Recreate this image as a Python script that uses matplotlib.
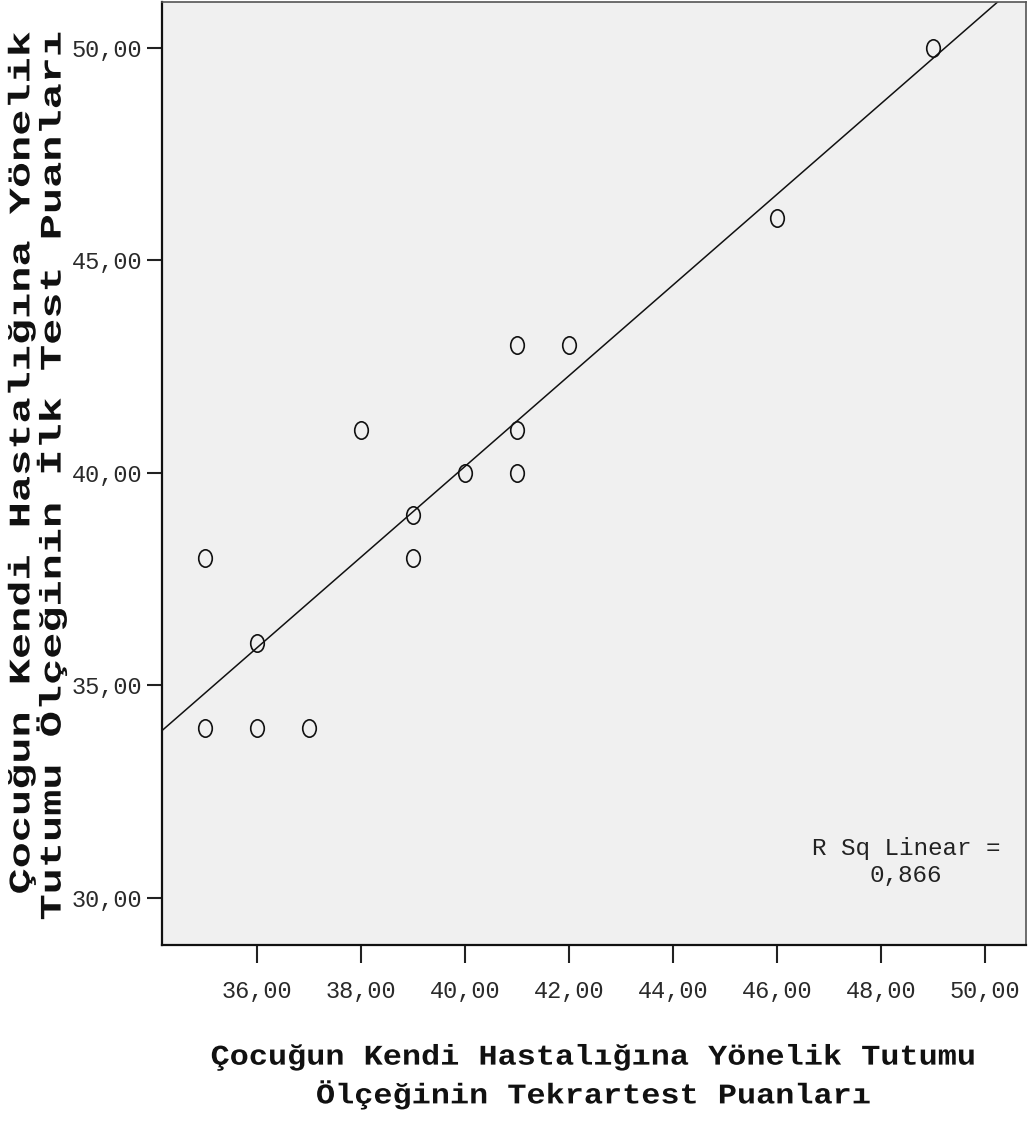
import numpy as np
import matplotlib
matplotlib.use('Agg')
import matplotlib.pyplot as plt
from matplotlib.path import Path
from matplotlib.markers import MarkerStyle
from matplotlib.transforms import Affine2D
from matplotlib.patheffects import AbstractPathEffect
from matplotlib.ticker import FuncFormatter, FixedLocator

# ---- data ----
retest = [35, 35, 36, 36, 37, 38, 39, 39, 40, 41, 41, 41, 42, 46, 49]
first_test = [38, 34, 36, 34, 34, 41, 39, 38, 40, 43, 41, 40, 43, 46, 50]
x_ticks = [36, 38, 40, 42, 44, 46, 48, 50]
y_ticks = [30, 35, 40, 45, 50]
x_label = "Çocuğun Kendi Hastalığına Yönelik Tutumu\nÖlçeğinin Tekrartest Puanları"
y_label = "Çocuğun Kendi Hastalığına Yönelik\nTutumu Ölçeğinin İlk Test Puanları"
r2_prefix = "R Sq Linear ="


class Stretch(AbstractPathEffect):
    """Stretch glyphs along the text direction (text stays a Text artist)."""
    def __init__(self, sx=1.0, anchor='center'):
        super().__init__()
        self.sx = sx
        self.anchor = anchor

    def draw_path(self, renderer, gc, tpath, affine, rgbFace=None):
        ext = tpath.get_extents()
        if self.anchor == 'right':
            x0 = ext.x1
        elif self.anchor == 'left':
            x0 = ext.x0
        else:
            x0 = 0.5 * (ext.x0 + ext.x1)
        t = Affine2D().translate(-x0, 0).scale(self.sx, 1).translate(x0, 0) + affine
        renderer.draw_path(gc, tpath, t, rgbFace)


W, H = 1030, 1124
fig = plt.figure(figsize=(W / 100, H / 100), dpi=100)
fig.patch.set_facecolor('white')


def fx(px):
    return px / W


def fy(py):
    return 1 - py / H


ax = fig.add_axes([fx(162), fy(945), (1026 - 162) / W, (945 - 2) / H])
ax.set_facecolor('#f0f0f0')

x = np.array(retest, dtype=float)
y = np.array(first_test, dtype=float)

# ellipse marker (slightly taller than wide)
ell = Path.unit_circle().transformed(Affine2D().scale(0.78, 1.0))
ax.plot(x, y, linestyle='none', marker=MarkerStyle(ell), markersize=12.5,
        markerfacecolor='none', markeredgecolor='#111111', markeredgewidth=1.2,
        zorder=3)

xmin, xmax = 34.173, 50.788
ymin, ymax = 28.894, 51.082
slope, intercept = np.polyfit(x, y, 1)
xx = np.array([xmin, xmax])
ax.plot(xx, slope * xx + intercept, color='#111111', linewidth=1.1, zorder=2)
r2 = np.corrcoef(x, y)[0, 1] ** 2

ax.set_xlim(xmin, xmax)
ax.set_ylim(ymin, ymax)

fmt = FuncFormatter(lambda v, p: f"{v:.2f}".replace('.', ','))
ax.xaxis.set_major_locator(FixedLocator(x_ticks))
ax.yaxis.set_major_locator(FixedLocator(y_ticks))
ax.xaxis.set_major_formatter(fmt)
ax.yaxis.set_major_formatter(fmt)

tick_font = 'Liberation Mono'
ax.tick_params(axis='x', direction='out', length=13, width=1.5, color='#222222',
               pad=12, labelsize=17, labelcolor='#2a2a2a')
ax.tick_params(axis='y', direction='out', length=11, width=1.5, color='#222222',
               pad=3, labelsize=17, labelcolor='#2a2a2a')
for lab in ax.get_xticklabels() + ax.get_yticklabels():
    lab.set_family(tick_font)

for side in ['left', 'bottom']:
    ax.spines[side].set_color('#111111')
    ax.spines[side].set_linewidth(1.6)
for side in ['top', 'right']:
    ax.spines[side].set_color('#555555')
    ax.spines[side].set_linewidth(1.2)

# R squared annotation
fig.text(fx(906), fy(862), f"{r2_prefix}\n{r2:.3f}".replace('.', ','),
         ha='center', va='center', multialignment='center',
         family='Liberation Mono', fontsize=17.5, color='#222222')

# x label
fig.text(fx(594), fy(1077), x_label, ha='center', va='center',
         multialignment='center', family='Liberation Mono', fontweight='bold',
         fontsize=20.5, linespacing=1.45, color='#111111',
         path_effects=[Stretch(1.12, 'center')])

# y label
fig.text(fx(37), fy(33), y_label, ha='center', va='top', rotation=90,
         multialignment='right', family='Liberation Mono', fontweight='bold',
         fontsize=21.5, linespacing=1.05, color='#111111',
         path_effects=[Stretch(1.46, 'right')])

fig.savefig('out.png', dpi=100, facecolor='white')
